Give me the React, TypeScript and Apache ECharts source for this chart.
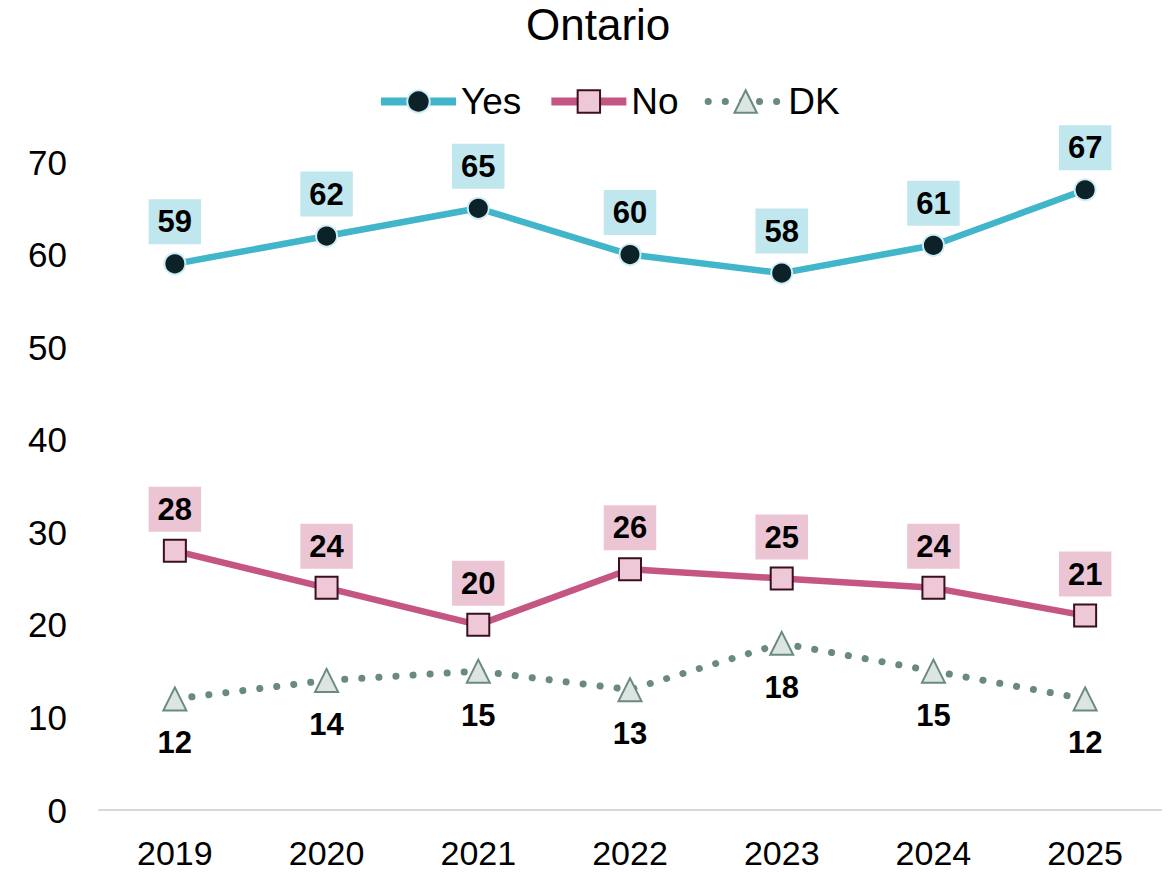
import React, { useEffect, useRef } from "react";
import * as echarts from "echarts";

const years = ["2019", "2020", "2021", "2022", "2023", "2024", "2025"];
const yesValues = [59, 62, 65, 60, 58, 61, 67];
const noValues = [28, 24, 20, 26, 25, 24, 21];
const dkValues = [12, 14, 15, 13, 18, 15, 12];

export default function App() {
  const ref = useRef<HTMLDivElement>(null);
  useEffect(() => {
    document.body.style.margin = "0";
    const chart = echarts.init(ref.current!, null, { renderer: "svg" });
    const font = "Liberation Sans, Arial, sans-serif";
    const labelBase = {
      show: true,
      fontFamily: font,
      fontSize: 31,
      fontWeight: "bold" as const,
      color: "#000",
    };
    chart.setOption({
      animation: false,
      textStyle: { fontFamily: font },
      title: {
        text: "Ontario",
        left: 521,
        top: -3,
        textStyle: { fontFamily: font, fontSize: 44, fontWeight: "normal", color: "#000" },
      },
      legend: {
        top: 78,
        left: 372,
        itemWidth: 75,
        itemHeight: 28,
        itemGap: 26,
        textStyle: { fontFamily: font, fontSize: 37, color: "#000" },
        data: [
          { name: "Yes", lineStyle: { width: 8 } },
          { name: "No", lineStyle: { width: 8 } },
          { name: "DK", lineStyle: { width: 7 } },
        ],
      },
      grid: { left: 99, right: 12, top: 162, bottom: 62, containLabel: false },
      xAxis: {
        type: "category",
        data: years,
        boundaryGap: true,
        axisLine: { lineStyle: { color: "#d9d9d9", width: 2 } },
        axisTick: { show: false },
        axisLabel: { fontFamily: font, fontSize: 34, lineHeight: 30, color: "#000", margin: 28 },
      },
      yAxis: {
        type: "value",
        min: 0,
        max: 70,
        interval: 10,
        axisLine: { show: false },
        axisTick: { show: false },
        splitLine: { show: false },
        axisLabel: { fontFamily: font, fontSize: 35, color: "#000", margin: 32 },
      },
      series: [
        {
          name: "Yes",
          type: "line",
          data: yesValues,
          symbol: "circle",
          symbolSize: 21,
          lineStyle: { color: "#41b5c9", width: 6.5 },
          itemStyle: { color: "#0d2128", borderColor: "#cdeef4", borderWidth: 2 },
          label: {
            ...labelBase,
            position: "top",
            distance: 8,
            backgroundColor: "#c0e6ee",
            padding: [7, 9, 7, 9],
          },
          z: 3,
        },
        {
          name: "No",
          type: "line",
          data: noValues,
          symbol: "rect",
          symbolSize: 22,
          lineStyle: { color: "#c55683", width: 6.5 },
          itemStyle: { color: "#efc8d8", borderColor: "#3a1020", borderWidth: 2 },
          label: {
            ...labelBase,
            position: "top",
            distance: 7,
            backgroundColor: "#ecc5d5",
            padding: [7, 9, 7, 9],
          },
          z: 3,
        },
        {
          name: "DK",
          type: "line",
          data: dkValues,
          symbol: "triangle",
          symbolSize: 23,
          lineStyle: { color: "#6a8a80", width: 7, type: [0.1, 17], cap: "round" },
          itemStyle: { color: "#dde5e2", borderColor: "#6a8a80", borderWidth: 2 },
          label: {
            ...labelBase,
            position: "bottom",
            distance: 16,
          },
          z: 2,
        },
      ],
    });
    return () => chart.dispose();
  }, []);
  return <div ref={ref} style={{ width: 1173, height: 872 }} />;
}
